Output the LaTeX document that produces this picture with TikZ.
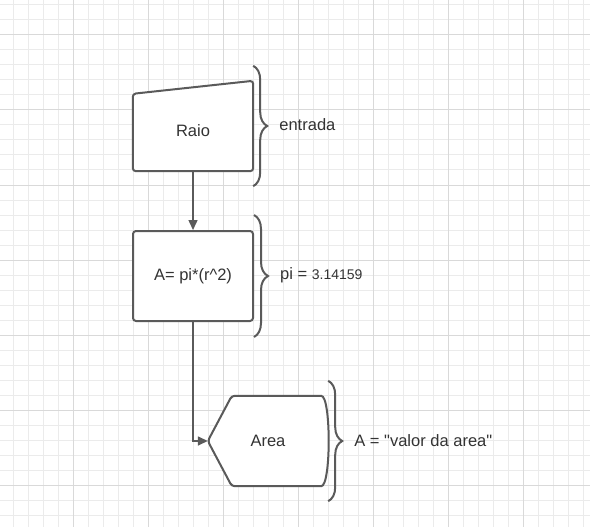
\documentclass[tikz,border=0pt]{standalone}
\usepackage{fontspec}
\setmainfont{Liberation Sans}
\usetikzlibrary{positioning,arrows.meta,decorations.pathreplacing}
\definecolor{linegray}{HTML}{5A5A5A}
\definecolor{textgray}{HTML}{333333}
\definecolor{gridminor}{HTML}{EBEBEB}
\definecolor{gridmajor}{HTML}{D9D9D9}
\pgfdeclarelayer{grid}
\pgfdeclarelayer{shapes}
\pgfsetlayers{grid,shapes,main}
\tikzstyle{block} = [rectangle, minimum width=120pt, minimum height=90pt,
    inner sep=0pt, text=textgray, font=\fontsize{16.5}{19}\selectfont]
\tikzstyle{outline} = [draw=linegray, line width=2pt, rounded corners=3pt, fill=white]
\tikzstyle{bracket} = [draw=linegray, line width=2pt, decorate,
    decoration={brace, amplitude=14pt}]
\tikzstyle{note} = [text=textgray, inner sep=0pt, font=\fontsize{16.5}{19}\selectfont]
\tikzstyle{line} = [draw=linegray, line width=1.5pt, -{Triangle[length=10pt, width=9pt]}]

\begin{document}
\begin{tikzpicture}[x=1pt, y=-1pt]
    \useasboundingbox (0,0) rectangle (590,527);
    % Grid
    \begin{pgfonlayer}{grid}
        \fill[white] (0,0) rectangle (590,527);
        \foreach \gx in {0,...,38}
            \draw[gridminor, line width=1pt] ({13.33+15*\gx},0) -- ++(0,527);
        \foreach \gy in {0,...,34}
            \draw[gridminor, line width=1pt] (0,{5+15*\gy}) -- ++(590,0);
        \foreach \gx in {0,...,6}
            \draw[gridmajor, line width=1pt] ({73.33+75*\gx},0) -- ++(0,527);
        \foreach \gy in {0,...,6}
            \draw[gridmajor, line width=1pt] (0,{35+75*\gy}) -- ++(590,0);
    \end{pgfonlayer}
    % Place nodes
    \node [block] (raio) at (193,126) {\raisebox{-11pt}[0pt][0pt]{Raio}};
    \node [block, outline] (calc) at (193,276) {A= pi*(r\^{}2)};
    \node [block] (area) at (268,441) {Area};
    % Shapes
    \begin{pgfonlayer}{shapes}
        \path [outline] (raio.south west) -- ([yshift=-13pt]raio.north west)
            -- (raio.north east) -- (raio.south east) -- cycle;
        \path [outline] (area.west) -- ([xshift=24pt]area.north west)
            -- ([xshift=-10pt]area.north east)
            .. controls ([xshift=3pt]area.north east) and ([xshift=3pt]area.south east)
            .. ([xshift=-10pt]area.south east)
            -- ([xshift=24pt]area.south west) -- cycle;
    \end{pgfonlayer}
    % Braces and notes
    \path [bracket] ([yshift=15pt]raio.north east) -- ([yshift=-15pt]raio.south east);
    \path [bracket] ([yshift=15pt]calc.north east) -- ([yshift=-15pt]calc.south east);
    \path [bracket] ([yshift=15pt]area.north east) -- ([yshift=-15pt]area.south east);
    \coordinate (tipraio) at ([xshift=14pt, yshift=1pt]raio.east);
    \coordinate (tipcalc) at ([xshift=14pt, yshift=1pt]calc.east);
    \coordinate (tiparea) at ([xshift=14pt]area.east);
    \node [note, right=12pt of tipraio] (entrada) {entrada};
    \node [note, right=12pt of tipcalc] (valorpi) {pi = {\fontsize{14}{16}\selectfont 3.14159}};
    \node [note, right=12pt of tiparea] (saida) {A = \textquotedbl valor da area\textquotedbl};
    % Draw edges
    \path [line] (raio) -- (calc);
    \path [line] (calc) |- (area);
\end{tikzpicture}
\end{document}
